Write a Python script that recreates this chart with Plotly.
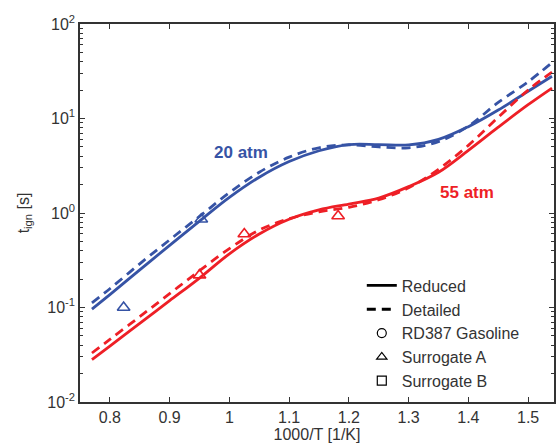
import plotly.graph_objects as go

# ---- data ----
x_grid = [0.77, 0.80, 0.85, 0.90, 0.95, 1.00, 1.05, 1.10, 1.15, 1.20, 1.25, 1.30, 1.35, 1.40, 1.45, 1.50, 1.54]

t_20_red = [0.096, 0.137, 0.25, 0.455, 0.82, 1.46, 2.39, 3.5, 4.56, 5.3, 5.3, 5.25, 6.0, 8.2, 12.3, 19.4, 28]
t_20_det = [0.112, 0.158, 0.29, 0.52, 0.92, 1.64, 2.7, 3.9, 4.9, 5.25, 5.0, 4.9, 5.7, 8.3, 14.8, 24.5, 39]
t_55_red = [0.028, 0.039, 0.068, 0.118, 0.205, 0.37, 0.60, 0.86, 1.08, 1.245, 1.44, 1.9, 2.7, 4.6, 8.1, 14.0, 21]
t_55_det = [0.033, 0.046, 0.08, 0.14, 0.245, 0.42, 0.66, 0.87, 1.03, 1.15, 1.38, 1.85, 2.9, 5.2, 10.3, 20, 31]

x_20_surA = [0.823, 0.953]
t_20_surA = [0.10, 0.86]
x_55_surA = [0.95, 1.025, 1.182]
t_55_surA = [0.22, 0.60, 0.93]

x_ticks = [0.8, 0.9, 1.0, 1.1, 1.2, 1.3, 1.4, 1.5]
x_ticklabels = ["0.8", "0.9", "1", "1.1", "1.2", "1.3", "1.4", "1.5"]
y_ticks = [0.01, 0.1, 1, 10, 100]
y_ticklabels = ["10<sup>-2</sup>", "10<sup>-1</sup>", "10<sup>0</sup>", "10<sup>1</sup>", "10<sup>2</sup>"]

BLUE = "#3653a5"
RED = "#ee1f26"
FONT = "Arial, Liberation Sans, sans-serif"
DASH = "9px,6px"

fig = go.Figure()

def line(x, y, color, dash):
    fig.add_trace(go.Scatter(x=x, y=y, mode="lines", showlegend=False,
                             line=dict(color=color, width=2.8, dash=dash, shape="spline", smoothing=1.0)))

line(x_grid, t_20_det, BLUE, DASH)
line(x_grid, t_20_red, BLUE, "solid")
line(x_grid, t_55_det, RED, DASH)
line(x_grid, t_55_red, RED, "solid")

for xs, ts, c in [(x_20_surA, t_20_surA, BLUE), (x_55_surA, t_55_surA, RED)]:
    fig.add_trace(go.Scatter(x=xs, y=ts, mode="markers", showlegend=False,
                             marker=dict(symbol="triangle-up-open", size=11, color=c, line=dict(width=1.6, color=c))))

# legend entries
fig.add_trace(go.Scatter(x=[None], y=[None], mode="lines", name="Reduced",
                         line=dict(color="black", width=2.8)))
fig.add_trace(go.Scatter(x=[None], y=[None], mode="lines", name="Detailed",
                         line=dict(color="black", width=2.8, dash=DASH)))
for sym, nm in [("circle-open", "RD387 Gasoline"), ("triangle-up-open", "Surrogate A"), ("square-open", "Surrogate B")]:
    fig.add_trace(go.Scatter(x=[None], y=[None], mode="markers", name=nm,
                             marker=dict(symbol=sym, size=9, color="black", line=dict(width=1.2, color="black"))))

fig.add_annotation(x=1.02, y=0.635, text="<b>20 atm</b>", showarrow=False,
                   font=dict(family=FONT, size=17, color=BLUE))
fig.add_annotation(x=1.397, y=0.212, text="<b>55 atm</b>", showarrow=False,
                   font=dict(family=FONT, size=17, color=RED))

fig.update_layout(
    width=556, height=446,
    margin=dict(l=80, r=0, t=24, b=44),
    plot_bgcolor="white", paper_bgcolor="white",
    font=dict(family=FONT, size=16, color="#333333"),
    legend=dict(x=0.5945, y=0.353, xanchor="left", yanchor="top",
                bgcolor="rgba(0,0,0,0)", font=dict(family=FONT, size=16, color="#333333"),
                tracegroupgap=0, itemwidth=30),
    xaxis=dict(range=[0.75, 1.5433], tickvals=x_ticks, ticktext=x_ticklabels,
               ticks="inside", ticklen=5, tickcolor="#333", showline=True, linecolor="#333",
               linewidth=1.5, mirror="ticks", showgrid=False, zeroline=False,
               title=dict(text="1000/T [1/K]", standoff=2, font=dict(size=16)),
               tickfont=dict(size=16)),
    yaxis=dict(type="log", range=[-2, 2], tickvals=y_ticks, ticktext=y_ticklabels,
               ticks="inside", ticklen=5, tickcolor="#333", showline=True, linecolor="#333",
               linewidth=1.5, mirror="ticks", showgrid=False, zeroline=False,
               minor=dict(ticks="inside", ticklen=3, tickcolor="#333", dtick="D1", showgrid=False),
               title=dict(text="t<sub>ign</sub> [s]", standoff=14, font=dict(size=16)),
               tickfont=dict(size=16)),
)

fig.write_html("out.html")
